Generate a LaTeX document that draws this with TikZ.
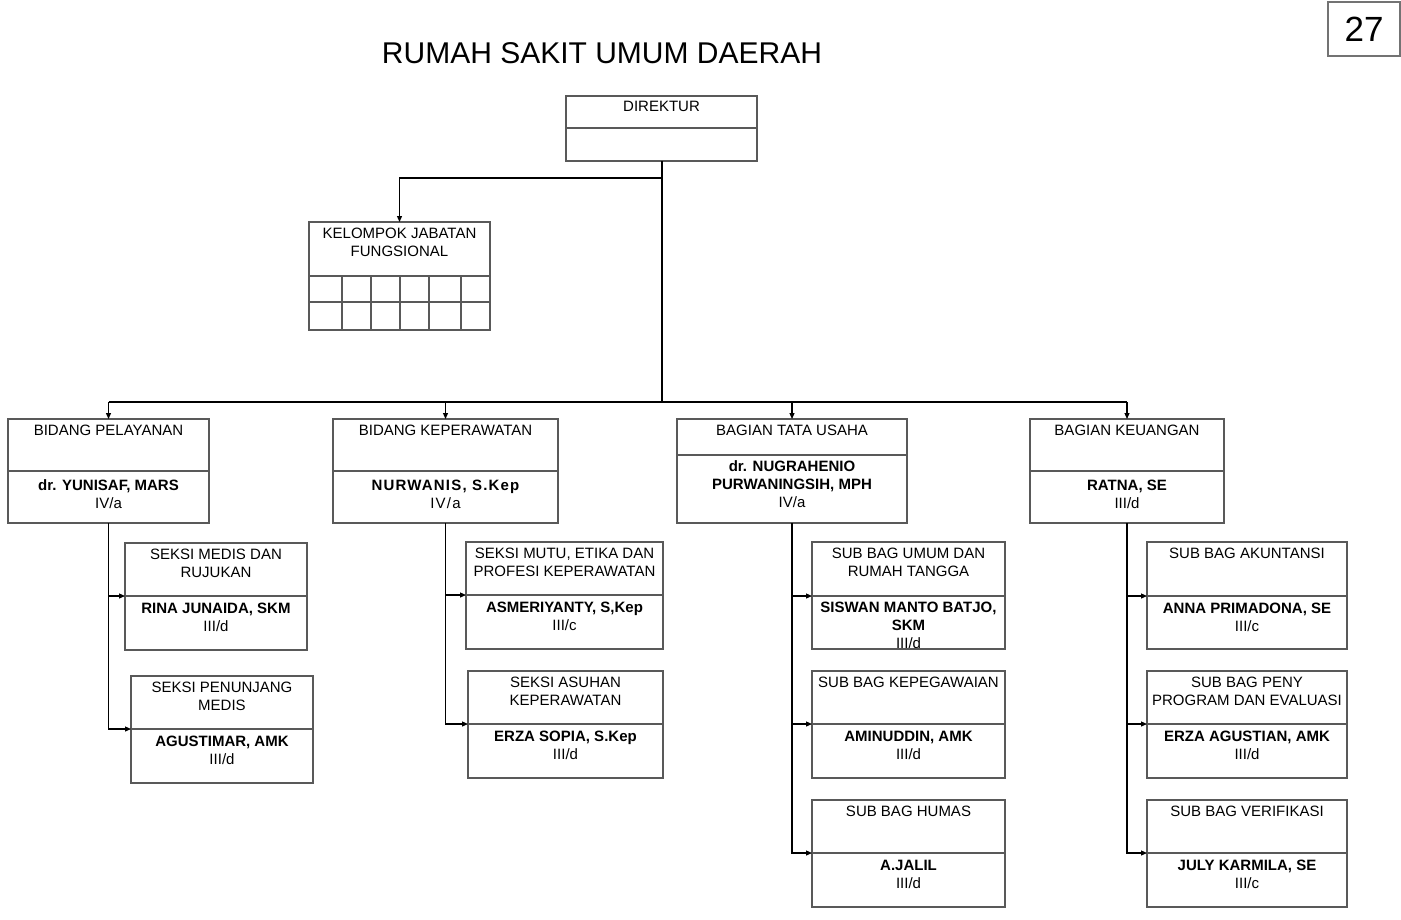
\documentclass[tikz,border=0pt]{standalone}
\usepackage{fontspec}
\setmainfont{Liberation Sans}
\newfontfamily\spacedfont[LetterSpace=8]{Liberation Sans}
\usetikzlibrary{arrows.meta}
\newcommand\orgbox[9][12]{%
  \begin{scope}
    \clip (#3,#4) rectangle (#5,#6);
    \node[txt, anchor=north] at ({(#3+#5)/2},#4+5.4) {#8};
    \node[txt, anchor=north] at ({(#3+#5)/2},#7+#1-5.4) {#9};
  \end{scope}
  \node[boxline, rectangle, inner sep=0pt, outer sep=0pt,
        minimum width={(#5-#3)*1pt}, minimum height={(#6-#4)*1pt},
        anchor=north west] (#2) at (#3,#4) {};
  \draw[boxline] (#3,#7) -- (#5,#7);
  \coordinate (#2-d) at (#3,#7);
}
\begin{document}
\begin{tikzpicture}[x=1pt,y=-1pt,
  boxline/.style={draw=black!65, line width=1.3pt},
  conn/.style={draw=black, line width=1.2pt},
  arr/.style={conn, -{Triangle[length=6pt,width=5pt]}},
  txt/.style={inner sep=0pt, align=center, font=\fontsize{15}{18}\selectfont},
]
\useasboundingbox (0,0) rectangle (1401,919);

% title and page number
\node[inner sep=0pt, font=\fontsize{30}{36}\selectfont] (title) at (602,53) {RUMAH SAKIT UMUM DAERAH};
\node[draw=black!55, line width=1.3pt, inner sep=0pt, outer sep=0pt,
      minimum width=72pt, minimum height=54pt, anchor=north west,
      font=\fontsize{35}{40}\selectfont] (page) at (1328,2) {27};

% boxes
\orgbox{dir}{566}{96}{757}{161}{128}{DIREKTUR}{}
\orgbox{kjf}{309}{222}{490}{330}{276}{KELOMPOK JABATAN\\FUNGSIONAL}{}
\draw[boxline] (kjf-d |- 0,302) -- (kjf.east |- 0,302);
\foreach \cx in {342,371,400,429,461} \draw[boxline] (\cx,276) -- (\cx,330);

\orgbox[14]{bp}{8}{419}{209}{523}{471}{BIDANG PELAYANAN}{\textbf{dr. YUNISAF, MARS}\\IV/a}
\orgbox[14]{bk}{333}{419}{558}{523}{471}{BIDANG KEPERAWATAN}{{\spacedfont\bfseries NURWANIS, S.Kep}\\{\spacedfont IV/a}}
\orgbox[11]{tu}{677}{419}{907}{523}{455}{BAGIAN TATA USAHA}{\textbf{dr. NUGRAHENIO}\\\textbf{PURWANINGSIH, MPH}\\IV/a}
\orgbox[14]{ku}{1030}{419}{1224}{523}{471}{BAGIAN KEUANGAN}{\textbf{RATNA, SE}\\III/d}

\orgbox{sm}{125}{543}{307}{650}{596}{SEKSI MEDIS DAN\\RUJUKAN}{\textbf{RINA JUNAIDA, SKM}\\III/d}
\orgbox{sp}{131}{676}{313}{783}{729}{SEKSI PENUNJANG\\MEDIS}{\textbf{AGUSTIMAR, AMK}\\III/d}
\orgbox{mu}{466}{542}{663}{649}{595}{SEKSI MUTU, ETIKA DAN\\PROFESI KEPERAWATAN}{\textbf{ASMERIYANTY, S,Kep}\\III/c}
\orgbox{as}{468}{671}{663}{778}{724}{SEKSI ASUHAN\\KEPERAWATAN}{\textbf{ERZA SOPIA, S.Kep}\\III/d}
\orgbox[11]{ur}{812}{542}{1005}{649}{596}{SUB BAG UMUM DAN\\RUMAH TANGGA}{\textbf{SISWAN MANTO BATJO,}\\\textbf{SKM}\\III/d}
\orgbox{kp}{812}{671}{1005}{778}{724}{SUB BAG KEPEGAWAIAN}{\textbf{AMINUDDIN, AMK}\\III/d}
\orgbox{hu}{812}{800}{1005}{907}{853}{SUB BAG HUMAS}{\textbf{A.JALIL}\\III/d}
\orgbox{ak}{1147}{542}{1347}{649}{596}{SUB BAG AKUNTANSI}{\textbf{ANNA PRIMADONA, SE}\\III/c}
\orgbox{pe}{1147}{671}{1347}{778}{724}{SUB BAG PENY\\PROGRAM DAN EVALUASI}{\textbf{ERZA AGUSTIAN, AMK}\\III/d}
\orgbox{ve}{1147}{800}{1347}{907}{853}{SUB BAG VERIFIKASI}{\textbf{JULY KARMILA, SE}\\III/c}

% connectors
\coordinate (bus) at (661.5,402);
\draw[conn, line width=2pt] (dir.south) -- (bus);
\draw[arr] ([yshift=-17pt]dir.south) -| (kjf.north);
\draw[conn] (bp.north |- bus) -- (ku.north |- bus);
\foreach \n in {bp,bk,tu,ku} \draw[arr] (\n.north |- bus) -- (\n.north);

\draw[arr] (bp.south) |- (sm-d);
\draw[arr] (bp.south) |- (sp-d);
\draw[arr] (bk.south) |- (mu-d);
\draw[arr] (bk.south) |- (as-d);
\draw[arr] (tu.south) |- (ur-d);
\draw[arr] (tu.south) |- (kp-d);
\draw[arr] (tu.south) |- (hu-d);
\draw[arr] (ku.south) |- (ak-d);
\draw[arr] (ku.south) |- (pe-d);
\draw[arr] (ku.south) |- (ve-d);
\end{tikzpicture}
\end{document}
